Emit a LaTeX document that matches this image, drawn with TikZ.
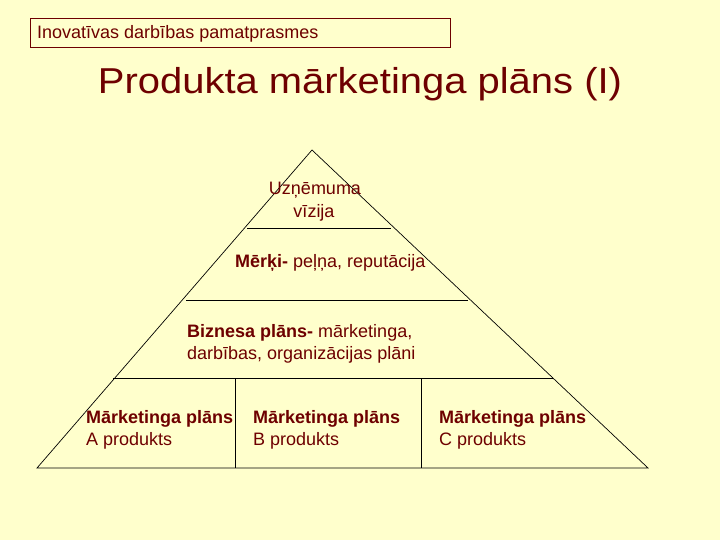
\documentclass[tikz,border=0pt]{standalone}
\usepackage{fontspec}
\setmainfont{Liberation Sans}
\definecolor{bgc}{RGB}{255,255,204}
\definecolor{txt}{RGB}{110,0,0}
\begin{document}
\begin{tikzpicture}[x=1pt,y=-1pt,
  lbl/.style={anchor=base west,inner sep=0pt,text=txt,font=\fontsize{18}{21}\selectfont},
  lblc/.style={anchor=base,inner sep=0pt,text=txt,font=\fontsize{18}{21}\selectfont},
  edge/.style={draw=black,line width=0.7pt}]
\fill[bgc] (0,0) rectangle (720,540);
\useasboundingbox (0,0) rectangle (720,540);
% header
\node[draw=txt,line width=0.8pt,minimum width=420pt,minimum height=29pt,anchor=north west,inner sep=0pt] (hdr) at (30,18) {};
\node[lbl] (hdrtxt) at (37,39) {Inovatīvas darbības pamatprasmes};
% title
\node[anchor=base,inner sep=0pt,text=txt,font=\fontsize{36}{40}\selectfont,xscale=1.11,transform shape] (title) at (360,94) {Produkta mārketinga plāns (I)};
% pyramid
\coordinate (apex) at (312,150);
\coordinate (bl) at (37,468);
\coordinate (br) at (648,468);
\draw[edge] (apex) -- (bl) -- (br) -- cycle;
\coordinate (l1a) at (247,228); \coordinate (l1b) at (391,228);
\coordinate (l2a) at (186,300); \coordinate (l2b) at (468,300);
\coordinate (l3a) at (113,378); \coordinate (l3b) at (553,378);
\draw[edge] (l1a) -- (l1b);
\draw[edge] (l2a) -- (l2b);
\draw[edge] (l3a) -- (l3b);
\coordinate (v1t) at (235,378); \coordinate (v1b) at (235,468);
\coordinate (v2t) at (421,378); \coordinate (v2b) at (421,468);
\draw[edge] (v1t) -- (v1b);
\draw[edge] (v2t) -- (v2b);
% texts
\node[lblc] (viz1) at (315,195) {Uzņēmuma};
\node[lblc] (viz2) at (314,218) {vīzija};
\node[lbl] (merki) at (235,267) {\textbf{Mērķi-} peļņa, reputācija};
\node[lbl] (biz1) at (187,337) {\textbf{Biznesa plāns-} mārketinga,};
\node[lbl] (biz2) at (187,359) {darbības, organizācijas plāni};
\node[lbl] (a1) at (86,423) {\textbf{Mārketinga plāns}};
\node[lbl] (a2) at (86,445) {A produkts};
\node[lbl] (b1) at (253,423) {\textbf{Mārketinga plāns}};
\node[lbl] (b2) at (253,445) {B produkts};
\node[lbl] (c1) at (439,423) {\textbf{Mārketinga plāns}};
\node[lbl] (c2) at (439,445) {C produkts};
\end{tikzpicture}
\end{document}
